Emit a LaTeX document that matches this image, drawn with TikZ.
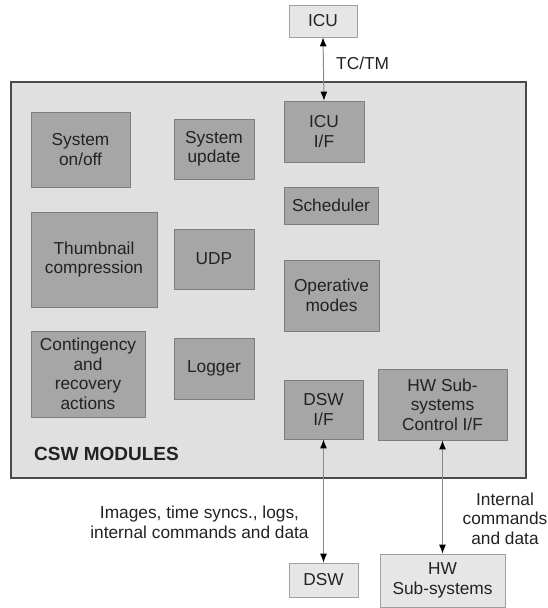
\documentclass[tikz,border=0pt]{standalone}
\usepackage{fontspec}
\setmainfont{Liberation Sans}
\usetikzlibrary{arrows.meta}
\definecolor{outerfill}{HTML}{E0E0E0}
\definecolor{outerdraw}{HTML}{4A4A4A}
\definecolor{modfill}{HTML}{A6A6A6}
\definecolor{moddraw}{HTML}{7E7E7E}
\definecolor{extfill}{HTML}{E6E6E6}
\definecolor{extdraw}{HTML}{A0A0A0}
\definecolor{txt}{HTML}{222222}
\definecolor{arrline}{HTML}{8A8A8A}
\begin{document}
\begin{tikzpicture}[x=1pt,y=-1pt,
  every node/.style={text=txt, font=\fontsize{17.3}{19.5}\selectfont, align=center, inner sep=0pt},
  modbox/.style={draw=moddraw, fill=modfill, line width=0.8pt},
  extbox/.style={draw=extdraw, fill=extfill, line width=0.8pt},
  link/.style={draw=arrline, line width=1pt, {Latex[length=9pt,width=7pt,color=black]}-{Latex[length=9pt,width=7pt,color=black]}},
]
\useasboundingbox (0,0) rectangle (548,608);
% outer CSW box
\draw[draw=outerdraw, fill=outerfill, line width=2pt] (11,82) rectangle (526,478);
% external boxes
\node[extbox, minimum width=68pt, minimum height=32pt] (icu) at (323,21) {ICU};
\node[extbox, minimum width=69pt, minimum height=34pt] (dsw) at (323.5,580) {DSW};
\node[extbox, minimum width=125pt, minimum height=53pt] (hws) at (442.5,580.5) {HW\\Sub-systems};
% modules
\node[modbox, minimum width=80pt, minimum height=61pt] (icuif) at (324,131.5) {ICU\\I/F};
\node[modbox, minimum width=99pt, minimum height=75pt] (onoff) at (80.5,149.5) {System\\on/off};
\node[modbox, minimum width=80pt, minimum height=60pt] (update) at (214,149) {System\\update};
\node[modbox, minimum width=94pt, minimum height=37pt] (sched) at (331,205.5) {Scheduler};
\node[modbox, minimum width=126pt, minimum height=95pt] (thumb) at (94,259.5) {Thumbnail\\compression};
\node[modbox, minimum width=80pt, minimum height=60pt] (udp) at (214,259) {UDP};
\node[modbox, minimum width=95pt, minimum height=71pt] (opmodes) at (331.5,295.5) {Operative\\modes};
\node[modbox, minimum width=114pt, minimum height=86pt] (conting) at (88,374) {Contingency\\and\\recovery\\actions};
\node[modbox, minimum width=80pt, minimum height=61pt] (logger) at (214,368.5) {Logger};
\node[modbox, minimum width=79pt, minimum height=59pt] (dswif) at (323.5,409.5) {DSW\\I/F};
\node[modbox, minimum width=129pt, minimum height=71pt] (hwif) at (442.5,404.5) {HW Sub-\\systems\\Control I/F};
\node[anchor=west, font=\bfseries\fontsize{19}{21}\selectfont] (csw) at (34,454) {CSW MODULES};
% connectors
\draw[link] (icu.south) -- (icuif.north);
\draw[link] (dswif.south) -- (dsw.north);
\draw[link] (hwif.south) -- (hws.north);
% labels
\node[anchor=west] (tctm) at (336,63) {TC/TM};
\node (imglbl) at (199.5,522.5) {Images, time syncs., logs,\\internal commands and data};
\node (intlbl) at (505,518.5) {Internal\\commands\\and data};
\end{tikzpicture}
\end{document}
